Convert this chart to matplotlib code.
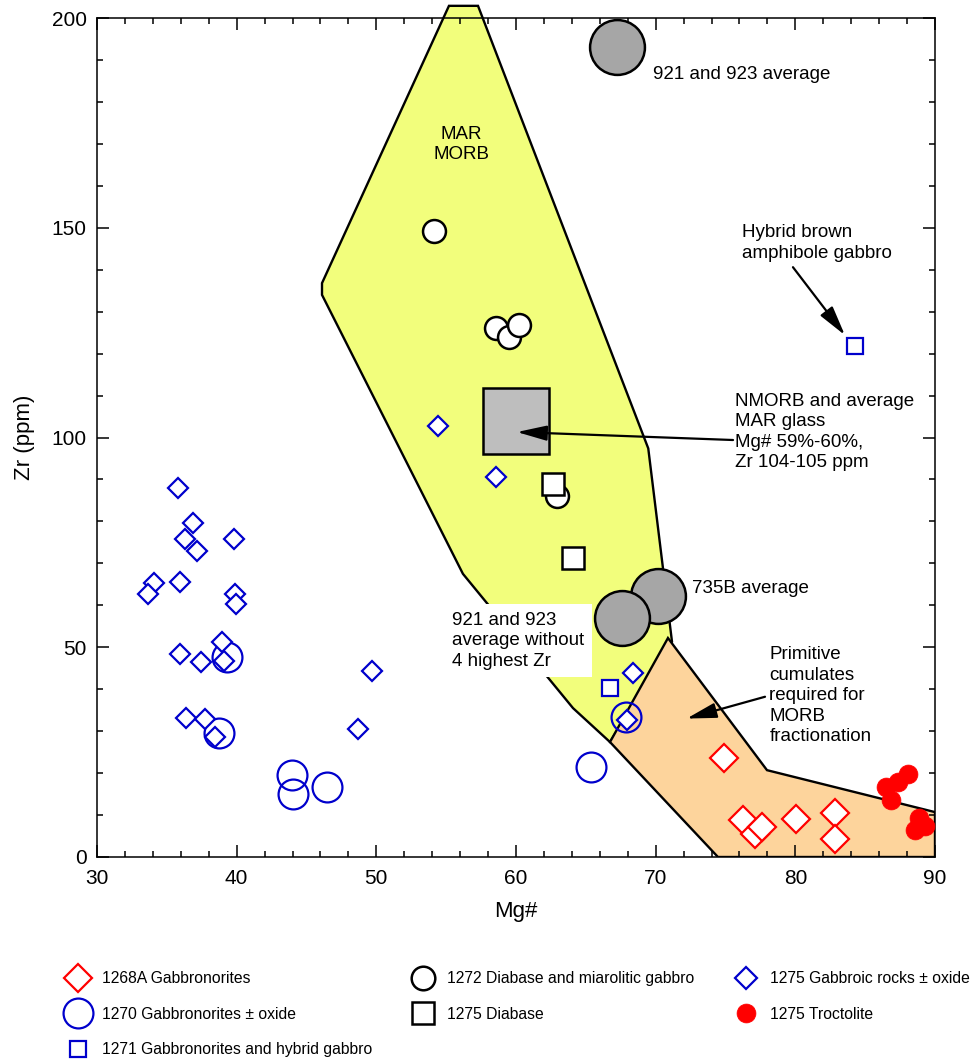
import matplotlib
matplotlib.use("Agg")
import matplotlib.pyplot as plt
from matplotlib.patches import Polygon
from matplotlib.lines import Line2D
from matplotlib.ticker import MultipleLocator

plt.rcParams['font.family'] = ['Liberation Sans', 'DejaVu Sans']

# ---------------- data: Mg# and Zr (ppm) ----------------
# Site 1268A gabbronorites
mg_1268A = [74.89, 76.27, 77.11, 77.59, 80.05, 82.84, 82.84]
zr_1268A = [23.5, 8.8, 5.6, 7.2, 9.1, 10.4, 4.4]

# Site 1270 gabbronorites +/- oxide
mg_1270 = [39.28, 38.76, 43.94, 44.06, 46.44, 65.37, 67.85]
zr_1270 = [47.7, 29.6, 19.5, 14.9, 16.8, 21.5, 33.4]

# Site 1271 gabbronorites and hybrid gabbro
mg_1271 = [66.73, 84.30]
zr_1271 = [40.2, 121.8]

# Site 1272 diabase and miarolitic gabbro
mg_1272 = [54.13, 62.90, 58.57, 59.52, 60.24]
zr_1272 = [149.2, 86.1, 126.0, 124.0, 126.8]

# Site 1275 diabase
mg_1275_dia = [62.67, 64.06]
zr_1275_dia = [88.8, 71.2]

# Site 1275 gabbroic rocks +/- oxide
mg_1275_gab = [35.82, 36.90, 36.30, 37.18, 39.83, 34.10, 35.94, 33.67, 39.88,
               39.95, 38.97, 39.12, 35.94, 37.47, 49.71, 36.35, 37.73, 38.45,
               48.71, 54.44, 58.60, 68.35, 67.92]
zr_1275_gab = [87.9, 79.5, 75.8, 73.0, 75.8, 65.4, 65.6, 62.7, 62.8,
               60.4, 51.3, 46.7, 48.5, 46.5, 44.3, 33.2, 32.8, 28.7,
               30.4, 102.7, 90.7, 43.8, 32.7]

# Site 1275 troctolite
mg_1275_troc = [88.04, 87.37, 86.49, 86.83, 88.88, 89.28, 88.57]
zr_1275_troc = [19.9, 17.9, 16.8, 13.7, 9.2, 7.4, 6.4]

# Reference averages
avg_921_923 = (67.23, 193.1)
avg_921_923_trim = (67.56, 57.0)
avg_735B = (70.19, 62.2)
nmorb_mar_glass = (60.0, 104.0)

# Field outlines
mar_morb_mg = [55.2, 57.28, 69.47, 71.17, 66.73, 64.08, 56.2, 46.11, 46.11]
mar_morb_zr = [202.9, 202.9, 97.4, 51.3, 27.4, 35.5, 67.5, 134.0, 136.8]
cumulate_mg = [70.88, 77.97, 90.0, 90.0, 74.46, 66.73]
cumulate_zr = [52.2, 20.7, 10.7, 0.0, 0.0, 27.4]

BLUE = '#0000cc'
RED = '#ff0000'

fig = plt.figure(figsize=(9.71, 10.61), dpi=100)
ax = fig.add_axes([97 / 971, 1 - 857 / 1061, 838 / 971, 839 / 1061])
ax.set_xlim(30, 90)
ax.set_ylim(0, 200)

# Fields
ax.add_patch(Polygon(list(zip(mar_morb_mg, mar_morb_zr)), closed=True,
                     fc='#f2fe7c', ec='black', lw=1.7, zorder=1, clip_on=False))
ax.add_patch(Polygon(list(zip(cumulate_mg, cumulate_zr)), closed=True,
                     fc='#fdd49c', ec='black', lw=1.7, zorder=1.5))

# Averages
ax.plot(*avg_921_923, 'o', ms=39.5, mfc='#a6a6a6', mec='black', mew=1.8, zorder=3)
ax.plot(*avg_735B, 'o', ms=39.5, mfc='#a6a6a6', mec='black', mew=1.8, zorder=3)
ax.plot(*avg_921_923_trim, 'o', ms=39.5, mfc='#a6a6a6', mec='black', mew=1.8, zorder=3)
ax.plot(*nmorb_mar_glass, 's', ms=48, mfc='#bebebe', mec='black', mew=1.8, zorder=3)

# Sample groups
ax.plot(mg_1272, zr_1272, 'o', ms=16.5, mfc='white', mec='black', mew=1.8, ls='none', zorder=4)
ax.plot(mg_1275_dia, zr_1275_dia, 's', ms=15.8, mfc='white', mec='black', mew=1.8, ls='none', zorder=4)
ax.plot(mg_1270, zr_1270, 'o', ms=21.5, mfc='none', mec=BLUE, mew=1.6, ls='none', zorder=5)
ax.plot(mg_1275_gab, zr_1275_gab, 'D', ms=10.6, mfc='white', mec=BLUE, mew=1.6, ls='none', zorder=5)
ax.plot(mg_1271, zr_1271, 's', ms=11, mfc='white', mec=BLUE, mew=1.6, ls='none', zorder=5)
ax.plot(mg_1268A, zr_1268A, 'D', ms=14.2, mfc='white', mec=RED, mew=1.6, ls='none', zorder=5)
ax.plot(mg_1275_troc, zr_1275_troc, 'o', ms=13.6, mfc=RED, mec=RED, mew=0.5, ls='none',
        zorder=5, clip_on=False)

# Annotations
FS = 13.5
LS = 1.27
ARROW = dict(arrowstyle='-|>,head_length=1.3,head_width=0.33', color='black',
             lw=1.6, shrinkA=0, shrinkB=0, mutation_scale=14)
ax.text(56.1, 169.8, 'MAR\nMORB', fontsize=FS, ha='center', va='center', linespacing=LS, zorder=6)
ax.text(69.8, 186.6, '921 and 923 average', fontsize=FS, ha='left', va='center', zorder=6)
ax.text(72.6, 63.9, '735B average', fontsize=FS, ha='left', va='center', zorder=6)
ax.text(76.16, 146.4, 'Hybrid brown\namphibole gabbro', fontsize=FS, ha='left', va='center',
        linespacing=LS, zorder=6)
ax.annotate('', xy=(83.55, 124.4), xytext=(79.83, 140.6), arrowprops=ARROW, zorder=6)
ax.text(75.7, 101.3, 'NMORB and average\nMAR glass\nMg# 59%-60%,\nZr 104-105 ppm', fontsize=FS,
        ha='left', va='center', linespacing=LS, zorder=6)
ax.annotate('', xy=(60.07, 101.3), xytext=(75.54, 99.4), arrowprops=ARROW, zorder=6)
ax.text(55.42, 51.5, '921 and 923\naverage without\n4 highest Zr', fontsize=FS, ha='left',
        va='center', linespacing=LS, zorder=6,
        bbox=dict(boxstyle='square,pad=0.4', fc='white', ec='none'))
ax.text(78.15, 38.4, 'Primitive\ncumulates\nrequired for\nMORB\nfractionation', fontsize=FS,
        ha='left', va='center', linespacing=LS, zorder=6)
ax.annotate('', xy=(72.22, 33.0), xytext=(77.83, 38.2), arrowprops=ARROW, zorder=6)

# Axes styling
ax.xaxis.set_major_locator(MultipleLocator(10))
ax.xaxis.set_minor_locator(MultipleLocator(2))
ax.yaxis.set_major_locator(MultipleLocator(50))
ax.yaxis.set_minor_locator(MultipleLocator(10))
ax.tick_params(which='both', direction='in', top=True, right=True, width=1.1,
               labelsize=15, pad=7.5)
ax.tick_params(axis='x', which='both', pad=9)
ax.tick_params(which='major', length=8.5)
ax.tick_params(which='minor', length=4.3)
for sp in ax.spines.values():
    sp.set_linewidth(1.1)
    sp.set_zorder(2.5)
ax.set_xlabel('Mg#', fontsize=16, labelpad=9)
ax.set_ylabel('Zr (ppm)', fontsize=16, labelpad=12)

# Legend, three columns
def h(marker, ms, fc, ec, mew):
    return Line2D([], [], ls='none', marker=marker, ms=ms, mfc=fc, mec=ec, mew=mew)

columns = [
    ([h('D', 14.2, 'white', RED, 1.6), h('o', 21.5, 'white', BLUE, 1.6), h('s', 11, 'white', BLUE, 1.6)],
     ['1268A Gabbronorites', '1270 Gabbronorites ± oxide', '1271 Gabbronorites and hybrid gabbro'],
     70 / 971),
    ([h('o', 17, 'white', 'black', 1.8), h('s', 16, 'white', 'black', 1.8)],
     ['1272 Diabase and miarolitic gabbro', '1275 Diabase'],
     415 / 971),
    ([h('D', 11.5, 'white', BLUE, 1.6), h('o', 13.6, RED, RED, 0.5)],
     ['1275 Gabbroic rocks ± oxide', '1275 Troctolite'],
     738 / 971),
]
for handles, labels, x0 in columns:
    fig.legend(handles, labels, loc='upper left', bbox_to_anchor=(x0, 1 - 971 / 1061),
               frameon=False, fontsize=11.3, handlelength=1.0, handletextpad=1.05,
               labelspacing=1.32, borderpad=0, borderaxespad=0)

fig.savefig('out.png', dpi=100)
